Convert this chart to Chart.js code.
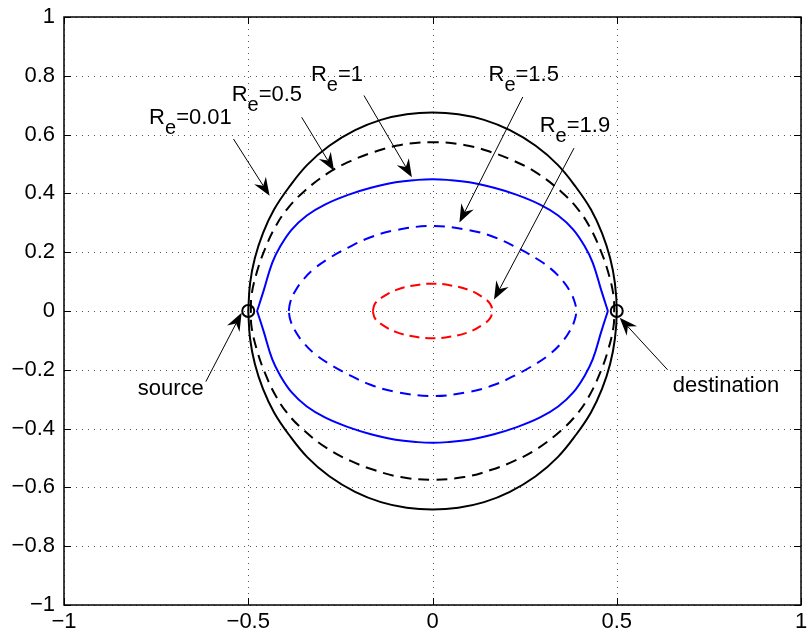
<!DOCTYPE html>
<html>
<head>
<meta charset="utf-8">
<title>R_e contours</title>
<script src="https://cdn.jsdelivr.net/npm/chart.js@4.4.0/dist/chart.umd.min.js"></script>
<style>
  body{margin:0;background:#fff;}
  #wrap{width:809px;height:638px;}
</style>
</head>
<body>
<div id="wrap"><canvas id="myChart" width="809" height="638"></canvas></div>
<script>
var xTicks=[-1,-0.5,0,0.5,1];
var xTickLabels=["\u22121","\u22120.5","0","0.5","1"];
var yTicks=[-1,-0.8,-0.6,-0.4,-0.2,0,0.2,0.4,0.6,0.8,1];
var yTickLabels=["\u22121","\u22120.8","\u22120.6","\u22120.4","\u22120.2","0","0.2","0.4","0.6","0.8","1"];

/* each curve: x from left to right, y of the upper and of the lower half */
var re001X  =[-0.5,-0.495,-0.482,-0.46,-0.43,-0.39,-0.34,-0.28,-0.21,-0.14,-0.07,0,0.07,0.14,0.21,0.28,0.34,0.39,0.43,0.46,0.482,0.495,0.5];
var re001Top=[0,0.095,0.18,0.265,0.345,0.42,0.497,0.562,0.615,0.65,0.669,0.675,0.669,0.65,0.615,0.562,0.497,0.42,0.345,0.265,0.18,0.095,0];
var re001Bot=[0,-0.095,-0.18,-0.265,-0.345,-0.42,-0.497,-0.562,-0.615,-0.65,-0.669,-0.675,-0.669,-0.65,-0.615,-0.562,-0.497,-0.42,-0.345,-0.265,-0.18,-0.095,0];

var re05X  =[-0.493,-0.491,-0.476,-0.455,-0.427,-0.395,-0.35,-0.285,-0.222,-0.158,-0.086,0,0.086,0.158,0.222,0.285,0.35,0.395,0.427,0.455,0.476,0.491,0.493];
var re05Top=[0,0.055,0.135,0.21,0.285,0.346,0.405,0.468,0.51,0.541,0.565,0.574,0.565,0.541,0.51,0.468,0.405,0.346,0.285,0.21,0.135,0.055,0];
var re05Bot=[0,-0.055,-0.135,-0.21,-0.285,-0.346,-0.405,-0.468,-0.51,-0.541,-0.565,-0.574,-0.565,-0.541,-0.51,-0.468,-0.405,-0.346,-0.285,-0.21,-0.135,-0.055,0];

var re1X  =[-0.476,-0.458,-0.435,-0.413,-0.382,-0.341,-0.292,-0.229,-0.167,-0.1,-0.04,0,0.04,0.1,0.167,0.229,0.292,0.341,0.382,0.413,0.435,0.458,0.476];
var re1Top=[0,0.07,0.164,0.22,0.277,0.325,0.362,0.395,0.419,0.438,0.446,0.448,0.446,0.438,0.419,0.395,0.362,0.325,0.277,0.22,0.164,0.07,0];
var re1Bot=[0,-0.07,-0.164,-0.22,-0.277,-0.325,-0.362,-0.395,-0.419,-0.438,-0.446,-0.448,-0.446,-0.438,-0.419,-0.395,-0.362,-0.325,-0.277,-0.22,-0.164,-0.07,0];

var re15X  =[-0.39,-0.386,-0.374,-0.352,-0.32,-0.28,-0.23,-0.17,-0.1,0,0.1,0.17,0.23,0.28,0.32,0.352,0.374,0.386,0.39];
var re15Top=[0,0.03,0.065,0.105,0.145,0.18,0.215,0.25,0.275,0.289,0.275,0.25,0.215,0.18,0.145,0.105,0.065,0.03,0];
var re15Bot=[0,-0.03,-0.065,-0.105,-0.145,-0.18,-0.215,-0.25,-0.275,-0.289,-0.275,-0.25,-0.215,-0.18,-0.145,-0.105,-0.065,-0.03,0];

var re19X  =[-0.162,-0.156,-0.136,-0.1,-0.05,0,0.05,0.1,0.136,0.156,0.162];
var re19Top=[0,0.025,0.047,0.071,0.087,0.093,0.087,0.071,0.047,0.025,0];
var re19Bot=[0,-0.025,-0.047,-0.071,-0.087,-0.093,-0.087,-0.071,-0.047,-0.025,0];

var nodeX=[-0.5,0.5];
var nodeY=[0,0];

var reLabels=["0.01","0.5","1","1.5","1.9"];

function halfPath(xs,ys){
    let pts=[];
    for(let i=0;i<xs.length;i++){ pts.push({x:xs[i],y:ys[i]}); }
    return pts;
}
function closedPath(xs,top,bot){
    let pts=halfPath(xs,top);
    for(let i=xs.length-2;i>=0;i--){ pts.push({x:xs[i],y:bot[i]}); }
    return pts;
}

var FONT="'Liberation Sans', Arial, Helvetica, sans-serif";

/* where the notes and arrows sit, in axis units */
var notes=[
    {text:reLabels[0],at:[-0.769,0.636],from:[-0.540,0.585],to:[-0.442,0.392]},
    {text:reLabels[1],at:[-0.545,0.713],from:[-0.355,0.659],to:[-0.267,0.477]},
    {text:reLabels[2],at:[-0.330,0.784],from:[-0.186,0.733],to:[-0.056,0.455]},
    {text:reLabels[3],at:[0.152,0.782],from:[0.245,0.728],to:[0.073,0.301]},
    {text:reLabels[4],at:[0.291,0.608],from:[0.384,0.554],to:[0.167,0.039]}
];
var plainNotes=[
    {text:"source",at:[-0.80,-0.285],from:[-0.615,-0.240],to:[-0.518,-0.006]},
    {text:"destination",at:[0.652,-0.274],from:[0.638,-0.200],to:[0.508,-0.023]}
];

function drawArrow(c,x1,y1,x2,y2){
    let a=Math.atan2(y2-y1,x2-x1);
    let len=18, half=7, notch=12;
    let bx=x2-Math.cos(a)*notch, by=y2-Math.sin(a)*notch;
    c.beginPath();
    c.moveTo(x1,y1);
    c.lineTo(bx,by);
    c.lineWidth=1;
    c.strokeStyle="#000";
    c.stroke();
    let px=-Math.sin(a), py=Math.cos(a);
    let cx=x2-Math.cos(a)*len, cy=y2-Math.sin(a)*len;
    c.beginPath();
    c.moveTo(x2,y2);
    c.lineTo(cx+px*half,cy+py*half);
    c.lineTo(bx,by);
    c.lineTo(cx-px*half,cy-py*half);
    c.closePath();
    c.fillStyle="#000";
    c.fill();
}

var frame={
    id:"frame",
    beforeDatasetsDraw(chart){
        let c=chart.ctx, a=chart.chartArea, sx=chart.scales.x, sy=chart.scales.y;
        c.save();
        c.strokeStyle="#555";
        c.lineWidth=1;
        c.setLineDash([1,5]);
        xTicks.forEach(function(v){
            let p=Math.round(sx.getPixelForValue(v))+0.5;
            c.beginPath(); c.moveTo(p,a.top); c.lineTo(p,a.bottom); c.stroke();
        });
        yTicks.forEach(function(v){
            let p=Math.round(sy.getPixelForValue(v))+0.5;
            c.beginPath(); c.moveTo(a.left,p); c.lineTo(a.right,p); c.stroke();
        });
        c.restore();
    },
    afterDatasetsDraw(chart){
        let c=chart.ctx, a=chart.chartArea, sx=chart.scales.x, sy=chart.scales.y;
        c.save();
        c.setLineDash([]);
        c.strokeStyle="#000";
        c.lineWidth=1;
        xTicks.forEach(function(v){
            let p=Math.round(sx.getPixelForValue(v))+0.5;
            c.beginPath(); c.moveTo(p,a.bottom); c.lineTo(p,a.bottom-7); c.stroke();
            c.beginPath(); c.moveTo(p,a.top); c.lineTo(p,a.top+7); c.stroke();
        });
        yTicks.forEach(function(v){
            let p=Math.round(sy.getPixelForValue(v))+0.5;
            c.beginPath(); c.moveTo(a.left,p); c.lineTo(a.left+7,p); c.stroke();
            c.beginPath(); c.moveTo(a.right,p); c.lineTo(a.right-7,p); c.stroke();
        });
        c.lineWidth=1.5;
        c.strokeRect(a.left,a.top,a.right-a.left,a.bottom-a.top);

        c.fillStyle="#000";
        c.textBaseline="alphabetic";
        c.textAlign="left";
        notes.forEach(function(n){
            let x=sx.getPixelForValue(n.at[0]), y=sy.getPixelForValue(n.at[1]);
            c.font="22px "+FONT;
            c.fillText("R",x,y);
            let w=c.measureText("R").width;
            c.font="20px "+FONT;
            c.fillText("e",x+w,y+10);
            let w2=c.measureText("e").width;
            c.font="22px "+FONT;
            c.fillText("="+n.text,x+w+w2,y);
            drawArrow(c,sx.getPixelForValue(n.from[0]),sy.getPixelForValue(n.from[1]),
                        sx.getPixelForValue(n.to[0]),sy.getPixelForValue(n.to[1]));
        });
        plainNotes.forEach(function(n){
            c.font="22px "+FONT;
            c.fillStyle="#000";
            c.fillText(n.text,sx.getPixelForValue(n.at[0]),sy.getPixelForValue(n.at[1]));
            drawArrow(c,sx.getPixelForValue(n.from[0]),sy.getPixelForValue(n.from[1]),
                        sx.getPixelForValue(n.to[0]),sy.getPixelForValue(n.to[1]));
        });
        c.restore();
    }
};

var curve=function(pts,color,dash){
    return {
        data:pts, pointRadius:0, borderColor:color, backgroundColor:color,
        borderWidth:2, borderDash:dash, tension:0.4, fill:false
    };
};

var ctx=document.getElementById("myChart").getContext("2d");
var myChart=new Chart(ctx,{
    type:"line",
    data:{
        datasets:[
            curve(closedPath(re001X,re001Top,re001Bot),"#000000",[]),
            curve(closedPath(re05X,re05Top,re05Bot),"#000000",[11,7]),
            curve(halfPath(re1X,re1Top),"#0000ff",[]),
            curve(halfPath(re1X,re1Bot),"#0000ff",[]),
            curve(closedPath(re15X,re15Top,re15Bot),"#0000ff",[11,7]),
            curve(closedPath(re19X,re19Top,re19Bot),"#ff0000",[10,6]),
            {
                data:halfPath(nodeX,nodeY), showLine:false, pointRadius:6,
                pointBorderColor:"#000", pointBackgroundColor:"rgba(0,0,0,0)",
                pointBorderWidth:2, pointStyle:"circle"
            }
        ]
    },
    options:{
        responsive:false,
        animation:false,
        events:[],
        layout:{padding:{top:17,right:1,left:0,bottom:0}},
        plugins:{legend:{display:false},tooltip:{enabled:false}},
        scales:{
            x:{
                type:"linear", min:-1, max:1, offset:false,
                afterBuildTicks:function(s){ s.ticks=xTicks.map(function(v){return {value:v};}); },
                afterFit:function(s){ s.height=33; s.paddingLeft=0; s.paddingRight=0; },
                grid:{display:false,drawTicks:false},
                border:{display:false},
                ticks:{
                    color:"#000", padding:4, maxRotation:0, autoSkip:false,
                    font:{size:22,family:FONT},
                    callback:function(v){ return xTickLabels[xTicks.indexOf(v)]; }
                }
            },
            y:{
                type:"linear", min:-1, max:1,
                afterBuildTicks:function(s){ s.ticks=yTicks.map(function(v){return {value:v};}); },
                afterFit:function(s){ s.width=64; s.paddingTop=0; s.paddingBottom=0; },
                grid:{display:false,drawTicks:false},
                border:{display:false},
                ticks:{
                    color:"#000", padding:9, autoSkip:false,
                    font:{size:22,family:FONT},
                    callback:function(v){ return yTickLabels[yTicks.indexOf(v)]; }
                }
            }
        }
    },
    plugins:[frame]
});
</script>
</body>
</html>
